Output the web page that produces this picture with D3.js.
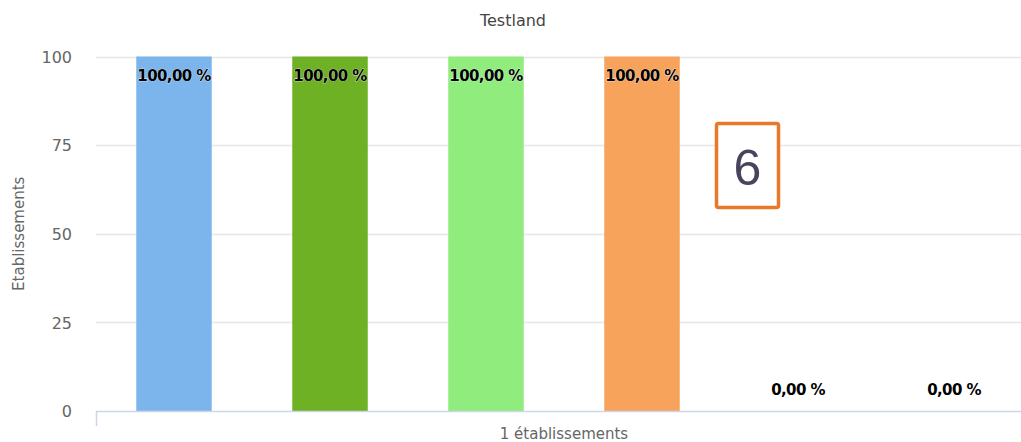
<!DOCTYPE html>
<html><head><meta charset="utf-8">
<script src="https://cdn.jsdelivr.net/npm/d3@7"></script>
<style>body{margin:0;background:#fff;}svg{display:block;font-family:"DejaVu Sans",sans-serif;}</style>
</head><body>
<svg id="c" width="1021" height="442"></svg>
<script>
const title = "Testland";
const categoryLabel = "1 établissements";
const yTitle = "Etablissements";
const seriesNames = ["S1","S2","S3","S4","S5","S6"];
const seriesValues = [100,100,100,100,0,0];
const seriesColors = ["#7cb5ec","#6fb125","#90ed7d","#f7a35c","#8085e9","#f15c80"];
const yTicks = [0,25,50,75,100];
const annotation = "6";

(function(){
const svg = d3.select("#c");
const pLeft = 96, pRight = 1032, pTop = 56.5, pBottom = 411;

const x = d3.scaleBand().domain(seriesNames).range([pLeft, pRight]).paddingInner(0.516).paddingOuter(0.258);
const y = d3.scaleLinear().domain([0,100]).range([pBottom, pTop]);

// gridlines
svg.append("g").selectAll("line").data(yTicks.filter(d=>d>0)).join("line")
  .attr("x1", pLeft).attr("x2", 1021)
  .attr("y1", d=>Math.round(y(d))+0.5).attr("y2", d=>Math.round(y(d))+0.5)
  .attr("stroke","#e6e6e6").attr("stroke-width",1.5);

// y axis tick labels
const yAxis = d3.axisLeft(y).tickValues(yTicks).tickSize(0).tickPadding(0);
const ya = svg.append("g").attr("transform",`translate(72,0)`).call(yAxis);
ya.select(".domain").remove();
ya.selectAll("text").attr("font-size",16).attr("fill","#666").attr("font-family","DejaVu Sans").attr("dy","0.36em");

// bars
svg.append("g").selectAll("rect").data(seriesValues).join("rect")
  .attr("x",(d,i)=>x(seriesNames[i]))
  .attr("width",x.bandwidth())
  .attr("y",d=>y(d))
  .attr("height",d=>y(0)-y(d))
  .attr("fill",(d,i)=>seriesColors[i]);

// x axis line
svg.append("line").attr("x1",pLeft).attr("x2",1021).attr("y1",pBottom+0.5).attr("y2",pBottom+0.5)
  .attr("stroke","#ccd6eb").attr("stroke-width",1.5);
svg.append("line").attr("x1",pLeft+0.5).attr("x2",pLeft+0.5).attr("y1",pBottom).attr("y2",426)
  .attr("stroke","#ccd6eb").attr("stroke-width",1.5);

// data labels
svg.append("g").selectAll("text").data(seriesValues).join("text")
  .attr("x",(d,i)=>x(seriesNames[i])+x.bandwidth()/2)
  .attr("y",d=> d>0 ? y(d)+24 : y(d)-16)
  .attr("text-anchor","middle")
  .attr("font-size",15).attr("font-weight","bold").attr("fill","#000")
  .attr("letter-spacing","-0.6")
  .attr("stroke","#fff").attr("stroke-width",0.6).attr("paint-order","stroke")
  .text(d=>d3.format(".2f")(d).replace(".",",")+" %");

// title
svg.append("text").attr("x",513).attr("y",26).attr("text-anchor","middle")
  .attr("font-size",16).attr("font-weight",500).attr("fill","#444").text(title);

// x category label
svg.append("text").attr("x",(pLeft+pRight)/2).attr("y",439).attr("text-anchor","middle")
  .attr("font-size",15).attr("fill","#666").text(categoryLabel);

// y title
svg.append("text").attr("transform",`translate(24,${(pTop+pBottom)/2}) rotate(-90)`)
  .attr("text-anchor","middle").attr("font-size",15).attr("fill","#666").text(yTitle);

// annotation box
svg.append("rect").attr("x",716.5).attr("y",123.5).attr("width",62).attr("height",84).attr("rx",2)
  .attr("fill","#fff").attr("stroke","#e8792a").attr("stroke-width",3.5);
svg.append("text").attr("x",747.5).attr("y",185).attr("text-anchor","middle")
  .attr("font-size",50).attr("font-family","Liberation Sans, Arial, sans-serif").attr("fill","#48445e").text(annotation);
})();
</script>
</body></html>
